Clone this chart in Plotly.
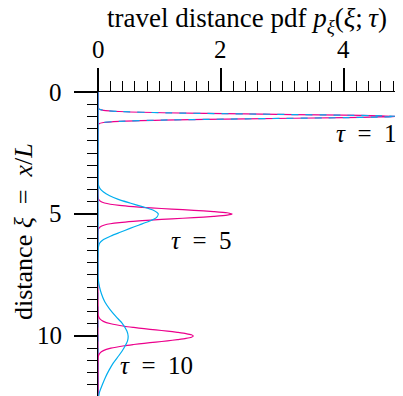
import plotly.graph_objects as go

# ---- data ----
xi_t1 = [0.0, 0.60, 0.65, 0.70, 0.75, 0.80, 0.85, 0.90, 0.95, 0.975, 1.0, 1.025, 1.05, 1.10, 1.15, 1.20, 1.25, 1.30, 1.35, 1.40, 12.46]
pdf_t1_m = [0.0, 0.0, 0.004, 0.015, 0.09, 0.35, 1.05, 2.40, 4.00, 4.60, 4.87, 4.60, 4.00, 2.40, 1.05, 0.35, 0.09, 0.015, 0.004, 0.0, 0.0]
pdf_t1_c = [0.0, 0.0, 0.004, 0.015, 0.09, 0.35, 1.05, 2.40, 4.00, 4.60, 4.87, 4.60, 4.00, 2.40, 1.05, 0.35, 0.09, 0.015, 0.004, 0.0, 0.0]

xi_t5_m = [0.0, 4.30, 4.40, 4.50, 4.55, 4.60, 4.65, 4.70, 4.75, 4.80, 4.85, 4.90, 4.95, 5.0, 5.05, 5.10, 5.15, 5.20, 5.25, 5.30, 5.35, 5.40, 5.45, 5.50, 5.60, 5.70, 12.46]
pdf_t5_m = [0.0, 0.0, 0.010, 0.052, 0.106, 0.20, 0.35, 0.57, 0.86, 1.20, 1.56, 1.88, 2.10, 2.18, 2.10, 1.88, 1.56, 1.20, 0.86, 0.57, 0.35, 0.20, 0.106, 0.052, 0.010, 0.0, 0.0]

xi_t5_c = [0.0, 3.50, 3.80, 3.95, 4.10, 4.25, 4.40, 4.55, 4.70, 4.85, 5.0, 5.15, 5.30, 5.45, 5.60, 5.75, 5.90, 6.05, 6.20, 6.50, 12.46]
pdf_t5_c = [0.0, 0.0, 0.005, 0.03, 0.09, 0.19, 0.33, 0.52, 0.72, 0.90, 0.98, 0.95, 0.83, 0.67, 0.51, 0.36, 0.21, 0.09, 0.025, 0.0, 0.0]

xi_t10_m = [0.0, 9.10, 9.20, 9.30, 9.40, 9.50, 9.60, 9.65, 9.70, 9.75, 9.80, 9.85, 9.90, 9.95, 10.0, 10.05, 10.10, 10.15, 10.20, 10.25, 10.30, 10.35, 10.40, 10.50, 10.60, 10.70, 10.80, 10.90, 12.46]
pdf_t10_m = [0.0, 0.0, 0.009, 0.031, 0.087, 0.21, 0.43, 0.58, 0.75, 0.94, 1.13, 1.29, 1.43, 1.52, 1.55, 1.52, 1.43, 1.29, 1.13, 0.94, 0.75, 0.58, 0.43, 0.21, 0.087, 0.031, 0.009, 0.0, 0.0]

xi_t10_c = [0.0, 7.30, 7.70, 8.00, 8.30, 8.60, 8.90, 9.20, 9.50, 9.80, 10.0, 10.20, 10.50, 10.80, 11.10, 11.40, 11.70, 12.00, 12.30, 12.46]
pdf_t10_c = [0.0, 0.0, 0.005, 0.025, 0.06, 0.11, 0.19, 0.29, 0.40, 0.47, 0.49, 0.48, 0.42, 0.34, 0.25, 0.18, 0.12, 0.07, 0.025, 0.012]

x_tick_vals = [0, 2, 4]
x_tick_text = ["0", "2", "4"]
y_tick_vals = [0, 5, 10]
y_tick_text = ["0", "5", "10"]
tau_labels = ["<i>τ</i>\u2002=\u20021", "<i>τ</i>\u2002=\u20025", "<i>τ</i>\u2002=\u200210"]
tau_label_x = [4.36, 1.68, 0.95]
tau_label_y = [1.72, 6.07, 11.2]

MAGENTA = "#EC008C"
CYAN = "#00AEEF"
FONT = "Liberation Serif"

fig = go.Figure()

def add(xi, pdf, color, dash="solid"):
    fig.add_trace(go.Scatter(x=pdf, y=xi, mode="lines",
                             line=dict(color=color, width=1.2, shape="spline", smoothing=0.6, dash=dash),
                             showlegend=False, hoverinfo="skip"))

add(xi_t1, pdf_t1_m, MAGENTA)
add(xi_t1, pdf_t1_c, CYAN, dash="7px,7px")
add(xi_t5_m, pdf_t5_m, MAGENTA)
add(xi_t5_c, pdf_t5_c, CYAN)
add(xi_t10_m, pdf_t10_m, MAGENTA)
add(xi_t10_c, pdf_t10_c, CYAN)

for txt, lx, ly in zip(tau_labels, tau_label_x, tau_label_y):
    fig.add_annotation(x=lx, y=ly, text=txt, showarrow=False,
                       font=dict(family=FONT, size=25, color="black"))

# tick labels (placed as annotations for exact spacing)
for v, t in zip(x_tick_vals, x_tick_text):
    fig.add_annotation(x=v, xref="x", y=1, yref="paper", yshift=43, text=t,
                       showarrow=False, xanchor="center", yanchor="middle",
                       font=dict(family=FONT, size=25, color="black"))
for v, t in zip(y_tick_vals, y_tick_text):
    fig.add_annotation(x=0, xref="paper", xshift=-34, y=v, yref="y", text=t,
                       showarrow=False, xanchor="right", yanchor="middle",
                       font=dict(family=FONT, size=25, color="black"))

fig.add_annotation(xref="paper", yref="paper", x=0.5, y=1, yshift=72,
                   text="travel distance pdf <i>p</i><sub><i>ξ</i></sub>(<i>ξ</i>;\u2009<i>τ</i>)",
                   showarrow=False, font=dict(family=FONT, size=27, color="black"),
                   xanchor="center", yanchor="middle")
fig.add_annotation(xref="paper", yref="paper", x=0, xshift=-75, y=0.5, yshift=12,
                   text="distance <i>ξ</i>\u2002=\u2002<i>x</i>/<i>L</i>", textangle=-90,
                   showarrow=False, font=dict(family=FONT, size=26, color="black"),
                   xanchor="center", yanchor="middle")

fig.update_layout(
    width=403, height=396,
    margin=dict(l=98, r=8, t=92, b=0),
    paper_bgcolor="white", plot_bgcolor="white",
    font=dict(family=FONT, size=25, color="black"),
    xaxis=dict(side="top", range=[0, 4.83], tickvals=x_tick_vals, showticklabels=False,
               showline=True, linecolor="black", linewidth=1.2,
               ticks="outside", ticklen=23, tickwidth=1.6, tickcolor="black",
               showgrid=False, zeroline=False,
               minor=dict(ticks="outside", dtick=0.2, tick0=0, ticklen=10, tickwidth=1, tickcolor="black", showgrid=False)),
    yaxis=dict(range=[12.46, 0], tickvals=y_tick_vals, showticklabels=False,
               showline=True, linecolor="black", linewidth=1.2,
               ticks="outside", ticklen=23, tickwidth=1.6, tickcolor="black",
               showgrid=False, zeroline=False,
               minor=dict(ticks="outside", dtick=0.5, tick0=0, ticklen=10, tickwidth=1, tickcolor="black", showgrid=False)),
)

fig.write_html("out.html")
